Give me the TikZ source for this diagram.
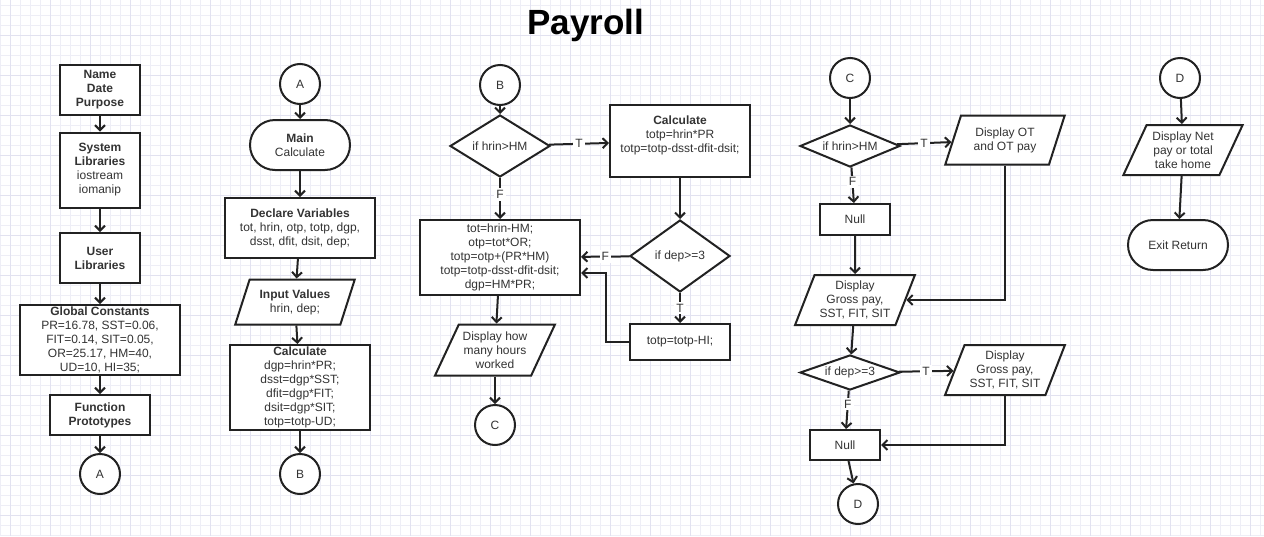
\documentclass[tikz,border=0pt]{standalone}
\usepackage{fontspec}
\setmainfont{Liberation Sans}
\usetikzlibrary{shapes.geometric,arrows.meta,positioning,calc}
\definecolor{ink}{HTML}{333333}
\definecolor{edgec}{HTML}{222222}
\definecolor{gridlite}{HTML}{EEEEF6}
\definecolor{griddark}{HTML}{E2E2F0}

\begin{document}
\begin{tikzpicture}[->,>={Straight Barb[length=5pt,width=10pt]},x=1pt,y=1pt,node distance=80pt,
    font=\fontsize{12}{14}\selectfont,text=ink,line width=2pt,draw=edgec,
    box/.style={draw,fill=white,rectangle,align=center,inner sep=0pt},
    io/.style={draw,fill=white,trapezium,trapezium left angle=66,trapezium right angle=114,trapezium stretches=true,minimum width=120pt,minimum height=50pt,align=center,inner sep=0pt},
    cond/.style={draw,fill=white,diamond,minimum width=100pt,align=center,inner sep=0pt},
    term/.style={draw,fill=white,rectangle,rounded corners=25pt,minimum width=100pt,minimum height=50pt,align=center,inner sep=0pt},
    conn/.style={draw,fill=white,circle,minimum size=40pt,inner sep=0pt}]

    % page and grid
    \useasboundingbox (0,0) rectangle (1264,-536);
    \fill[-,white] (0,0) rectangle (1264,-536);
    \foreach \gx in {0,10,...,1260} \draw[-,line width=1pt,gridlite] (\gx,0) -- (\gx,-536);
    \foreach \gy in {5,15,...,535} \draw[-,line width=1pt,gridlite] (0,-\gy) -- (1264,-\gy);
    \foreach \gx in {10,50,...,1250} \draw[-,line width=1pt,griddark] (\gx,0) -- (\gx,-536);
    \foreach \gy in {35,75,...,515} \draw[-,line width=1pt,griddark] (0,-\gy) -- (1264,-\gy);

    \node[font=\fontsize{35}{40}\selectfont\bfseries,text=black] (title) at (586,-25) {Payroll};

    % start
    \node[box,minimum width=80pt,minimum height=50pt] (name) at (100,-90) {\textbf{Name}\\\textbf{Date}\\\textbf{Purpose}};
    \node[box,minimum width=80pt,minimum height=75pt,below of = name] (syslib) {\textbf{System}\\\textbf{Libraries}\\iostream\\iomanip};
    \node[box,minimum width=80pt,minimum height=50pt,below of = syslib,yshift=-8pt] (usrlib) {\textbf{User}\\\textbf{Libraries}};
    \node[box,minimum width=160pt,minimum height=70pt,below of = usrlib,yshift=-2pt] (glob) {\textbf{Global Constants}\\PR=16.78, SST=0.06,\\FIT=0.14, SIT=0.05,\\OR=25.17, HM=40,\\UD=10, HI=35;};
    \node[box,minimum width=100pt,minimum height=40pt,below of = glob,yshift=5pt] (proto) {\textbf{Function}\\\textbf{Prototypes}};
    \node[conn,below of = proto,yshift=21pt] (a1) {A};

    % main
    \node[conn] (a2) at (300,-84) {A};
    \node[term,below of = a2,yshift=19pt] (main) {\textbf{Main}\\Calculate};
    \node[box,minimum width=150pt,minimum height=60pt,below of = main,yshift=-3pt] (decl) {\textbf{Declare Variables}\\tot, hrin, otp, totp, dgp,\\dsst, dfit, dsit, dep;};
    \node[io,minimum height=45pt,below of = decl,yshift=6pt,xshift=-5pt] (input) {\textbf{Input Values}\\hrin, dep;};
    \node[box,minimum width=140pt,minimum height=85pt,below of = input,yshift=-5.5pt,xshift=5pt] (calc1) {\textbf{Calculate}\\dgp=hrin*PR;\\dsst=dgp*SST;\\dfit=dgp*FIT;\\dsit=dgp*SIT;\\totp=totp-UD;};
    \node[conn,below of = calc1,yshift=-6.5pt] (b1) {B};

    % overtime
    \node[conn] (b2) at (500,-85) {B};
    \node[cond,minimum height=62pt,aspect=1.6,below of = b2,yshift=19pt] (hrin1) {if hrin>HM};
    \node[box,minimum width=160pt,minimum height=75pt,below of = hrin1,yshift=-31.5pt] (over) {tot=hrin-HM;\\otp=tot*OR;\\totp=otp+(PR*HM)\\totp=totp-dsst-dfit-dsit;\\dgp=HM*PR;};
    \node[io,minimum height=51pt,trapezium left angle=60,trapezium right angle=120,below of = over,yshift=-12.5pt,xshift=-5pt] (hours) {Display how\\many hours\\worked};
    \node[conn,below of = hours,yshift=5pt] (c1) {C};
    \node[box,minimum width=140pt,minimum height=72pt,right of = hrin1,xshift=100pt,yshift=5pt] (calc2) {\textbf{Calculate}\\totp=hrin*PR\\totp=totp-dsst-dfit-dsit;\\\mbox{}};
    \node[cond,minimum height=72pt,aspect=1.4,below of = calc2,yshift=-35pt] (dep1) {if dep>=3};
    \node[box,minimum width=100pt,minimum height=36pt,below of = dep1,yshift=-6pt] (hi) {totp=totp-HI;};

    % display
    \node[conn] (c2) at (850,-78) {C};
    \node[cond,minimum height=42pt,aspect=2.4,below of = c2,yshift=12pt] (hrin2) {if hrin>HM};
    \node[box,minimum width=70pt,minimum height=31pt,below of = hrin2,yshift=6.5pt,xshift=5pt] (null1) {Null};
    \node[io,below of = null1,yshift=-0.5pt] (gross1) {Display\\Gross pay,\\SST, FIT, SIT};
    \node[cond,minimum height=35pt,aspect=2.9,below of = gross1,yshift=7.5pt,xshift=-5pt] (dep2) {if dep>=3};
    \node[box,minimum width=70pt,minimum height=30pt,below of = dep2,yshift=7.5pt,xshift=-5pt] (null2) {Null};
    \node[conn,below of = null2,yshift=21pt,xshift=13pt] (d1) {D};
    \node[io,minimum height=49pt,right of = hrin2,xshift=75pt,yshift=6pt] (otpay) {Display OT\\and OT pay};
    \node[io,right of = dep2,xshift=75pt,yshift=2.5pt] (gross2) {Display\\Gross pay,\\SST, FIT, SIT};

    % end
    \node[conn] (d2) at (1180,-78) {D};
    \node[io,trapezium left angle=62,trapezium right angle=118,below of = d2,yshift=8pt,xshift=3pt] (net) {Display Net\\pay or total\\take home};
    \node[term,below of = net,yshift=-15pt,xshift=-5pt] (exit) {Exit Return};

    \path[every node/.style={fill=white,inner sep=2pt}]
    (name) edge (syslib)
    (syslib) edge (usrlib)
    (usrlib) edge (glob)
    (glob) edge (proto)
    (proto) edge (a1)

    (a2) edge (main)
    (main) edge (decl)
    (decl) edge (input)
    (input) edge (calc1)
    (calc1) edge (b1)

    (b2) edge (hrin1)
    (hrin1) edge node {T} (calc2)
            edge node[pos=.4] {F} (over)
    (calc2) edge (dep1)
    (dep1) edge node {F} (over)
           edge node {T} (hi)
    (over) edge (hours)
    (hours) edge (c1)

    (c2) edge (hrin2)
    (hrin2) edge node {T} (otpay)
            edge node[pos=.4] {F} (null1)
    (null1) edge (gross1)
    (gross1) edge (dep2)
    (dep2) edge node {T} (gross2)
           edge node[pos=.35] {F} (null2)
    (null2) edge (d1)

    (d2) edge (net)
    (net) edge (exit)
    ;

    \draw (hi.west) -| ([xshift=25pt,yshift=23pt]over.south east) -- ([yshift=23pt]over.south east);
    \draw (otpay.south) |- (gross1.east);
    \draw (gross2.south) |- (null2.east);
\end{tikzpicture}
\end{document}
